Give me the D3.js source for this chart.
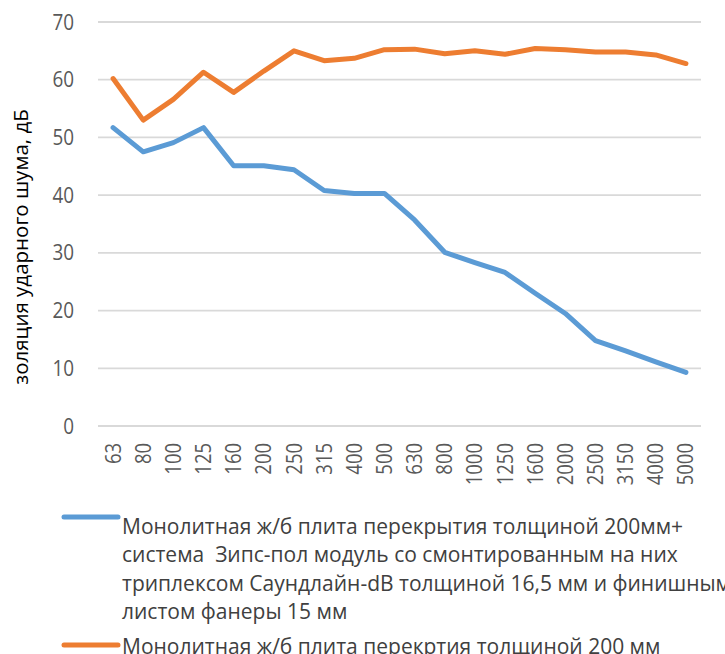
<!DOCTYPE html>
<html>
<head>
<meta charset="utf-8">
<script src="https://cdn.jsdelivr.net/npm/d3@7"></script>
<style>
  body { margin: 0; background: #fff; }
  svg { font-family: "Open Sans", sans-serif; }
</style>
</head>
<body>
<div id="chart"></div>
<script>
// Частоты (Гц)
const freqs = ["63", "80", "100", "125", "160", "200", "250", "315", "400", "500",
  "630", "800", "1000", "1250", "1600", "2000", "2500", "3150", "4000", "5000"];

// Монолитная плита + система Зипс-пол
const withSystem = [51.7, 47.5, 49.1, 51.7, 45.1, 45.1, 44.4, 40.8, 40.3, 40.3,
  35.7, 30.1, 28.3, 26.6, 23.0, 19.5, 14.8, 13.0, 11.1, 9.3];

// Монолитная плита без системы
const bareSlab = [60.2, 53.0, 56.6, 61.3, 57.8, 61.5, 65.0, 63.3, 63.7, 65.2,
  65.3, 64.5, 65.0, 64.4, 65.4, 65.2, 64.8, 64.8, 64.3, 62.8];

const yTicks = [0, 10, 20, 30, 40, 50, 60, 70];

const legendBlue = [
  "Монолитная ж/б плита перекрытия толщиной 200мм+",
  "система  Зипс-пол модуль со смонтированным на них",
  "триплексом Саундлайн-dB толщиной 16,5 мм и финишным",
  "листом фанеры 15 мм"
];
const legendOrange = ["Монолитная ж/б плита перекртия толщиной 200 мм"];

const width = 725;
const height = 654;
const plotLeft = 98, plotRight = 701, plotTop = 22, plotBottom = 426;

const svg = d3.select("#chart")
  .append("svg")
  .attr("width", width)
  .attr("height", height);

const x = d3.scaleBand()
  .domain(freqs)
  .range([plotLeft, plotRight]);

const y = d3.scaleLinear()
  .domain([0, 70])
  .range([plotBottom, plotTop]);

// сетка
svg.append("g")
  .selectAll("line")
  .data(yTicks)
  .enter().append("line")
  .attr("x1", plotLeft)
  .attr("x2", plotRight)
  .attr("y1", d => y(d))
  .attr("y2", d => y(d))
  .attr("stroke", "#d9d9d9")
  .attr("stroke-width", 1.8);

// подписи оси Y (шрифт чуть сжат по ширине, как Calibri)
svg.append("g")
  .selectAll("text")
  .data(yTicks)
  .enter().append("text")
  .attr("transform", d => `translate(74, ${y(d)}) scale(0.9, 1)`)
  .attr("dy", "0.36em")
  .attr("text-anchor", "end")
  .attr("font-size", "21px")
  .attr("fill", "#595959")
  .text(d => d);

// подписи оси X
svg.append("g")
  .selectAll("text")
  .data(freqs)
  .enter().append("text")
  .attr("transform", d => `translate(${x(d) + x.bandwidth() / 2}, 443) rotate(-90) scale(0.88, 1)`)
  .attr("dy", "0.36em")
  .attr("text-anchor", "end")
  .attr("font-size", "21px")
  .attr("fill", "#595959")
  .text(d => d);

// заголовок оси Y
svg.append("text")
  .attr("transform", `translate(28, 247) rotate(-90)`)
  .attr("text-anchor", "middle")
  .attr("font-size", "20.5px")
  .attr("fill", "#000")
  .text("золяция ударного шума, дБ");

const line = d3.line()
  .x((d, i) => x(freqs[i]) + x.bandwidth() / 2)
  .y(d => y(d));

const series = [
  { values: bareSlab, color: "#ED7D31" },
  { values: withSystem, color: "#5B9BD5" }
];

svg.append("g")
  .selectAll("path")
  .data(series)
  .enter().append("path")
  .attr("d", d => line(d.values))
  .attr("fill", "none")
  .attr("stroke", d => d.color)
  .attr("stroke-width", 5)
  .attr("stroke-linejoin", "round")
  .attr("stroke-linecap", "round");

// легенда
const legendItems = [
  { lines: legendBlue, color: "#5B9BD5", lineY: 517, baseY: 534 },
  { lines: legendOrange, color: "#ED7D31", lineY: 645, baseY: 654 }
];

const legend = svg.append("g");
legendItems.forEach(item => {
  legend.append("line")
    .attr("x1", 64).attr("x2", 118)
    .attr("y1", item.lineY).attr("y2", item.lineY)
    .attr("stroke", item.color)
    .attr("stroke-width", 5)
    .attr("stroke-linecap", "round");
  legend.append("g")
    .selectAll("text")
    .data(item.lines)
    .enter().append("text")
    .attr("x", 122)
    .attr("y", (d, i) => item.baseY + i * 28.3)
    .attr("font-size", "21px")
    .attr("fill", "#404040")
    .style("white-space", "pre")
    .text(d => d);
});
</script>
</body>
</html>
